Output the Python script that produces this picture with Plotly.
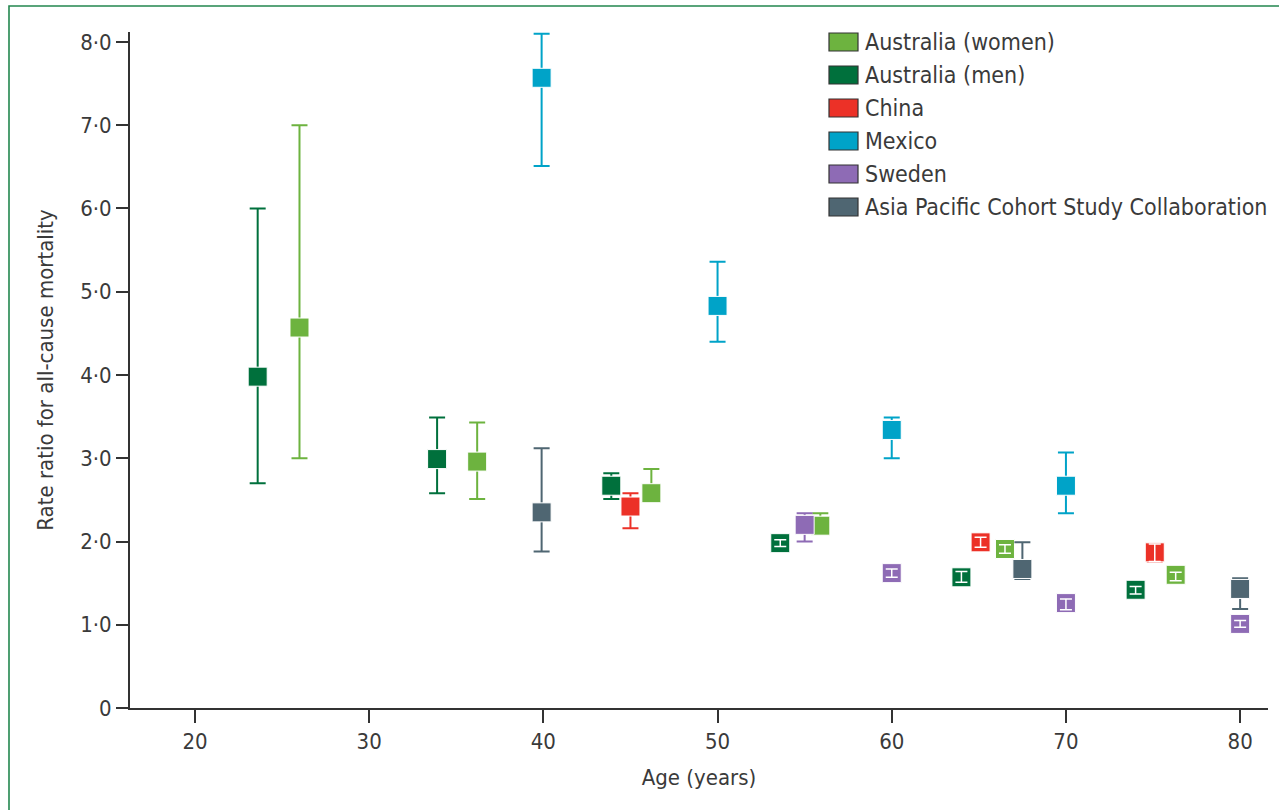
import plotly.graph_objects as go

# ---------------- data ----------------
series_names = ["Australia (women)", "Australia (men)", "China", "Mexico", "Sweden",
                "Asia Pacific Cohort Study Collaboration"]
series_colors = ["#6DB33F", "#00703C", "#EC3127", "#00A3C8", "#8E6BB5", "#4F6672"]

aus_women_age = [26.0, 36.2, 46.2, 55.9, 66.5, 76.3]
aus_women_rr  = [4.57, 2.96, 2.58, 2.19, 1.91, 1.60]
aus_women_hi  = [7.00, 3.43, 2.87, 2.34, 1.96, 1.63]
aus_women_lo  = [3.00, 2.51, 2.51, 2.10, 1.86, 1.53]

aus_men_age = [23.6, 33.9, 43.9, 53.6, 64.0, 74.0]
aus_men_rr  = [3.98, 2.99, 2.67, 1.98, 1.57, 1.42]
aus_men_hi  = [6.00, 3.49, 2.82, 2.02, 1.64, 1.46]
aus_men_lo  = [2.70, 2.58, 2.51, 1.94, 1.51, 1.37]

china_age = [45.0, 65.1, 75.1]
china_rr  = [2.42, 1.99, 1.87]
china_hi  = [2.58, 2.05, 1.97]
china_lo  = [2.16, 1.93, 1.76]

mexico_age = [39.9, 50.0, 60.0, 70.0]
mexico_rr  = [7.57, 4.83, 3.34, 2.67]
mexico_hi  = [8.10, 5.36, 3.49, 3.07]
mexico_lo  = [6.51, 4.40, 3.00, 2.34]

sweden_age = [55.0, 60.0, 70.0, 80.0]
sweden_rr  = [2.20, 1.62, 1.26, 1.01]
sweden_hi  = [2.34, 1.67, 1.31, 1.05]
sweden_lo  = [2.00, 1.57, 1.18, 0.97]

apcsc_age = [39.9, 67.5, 80.0]
apcsc_rr  = [2.35, 1.67, 1.43]
apcsc_hi  = [3.12, 1.99, 1.56]
apcsc_lo  = [1.88, 1.55, 1.19]

series_data = [
    (aus_women_age, aus_women_rr, aus_women_hi, aus_women_lo),
    (aus_men_age, aus_men_rr, aus_men_hi, aus_men_lo),
    (china_age, china_rr, china_hi, china_lo),
    (mexico_age, mexico_rr, mexico_hi, mexico_lo),
    (sweden_age, sweden_rr, sweden_hi, sweden_lo),
    (apcsc_age, apcsc_rr, apcsc_hi, apcsc_lo),
]

x_ticks = [20, 30, 40, 50, 60, 70, 80]
y_ticks = [0, 1, 2, 3, 4, 5, 6, 7, 8]
y_tick_labels = ["0", "1·0", "2·0", "3·0", "4·0", "5·0", "6·0", "7·0", "8·0"]

# ---------------- layout geometry ----------------
W, H = 1279, 810
ML, MR, MT, MB = 130, 11, 32, 102
PW, PH = W - ML - MR, H - MT - MB
X_RANGE = [16.27, 81.6]
Y_RANGE = [0, 8.12]
MARKER = 19
HALF_SQ = (MARKER / 2) / PH * (Y_RANGE[1] - Y_RANGE[0])

FONT = "DejaVu Sans Condensed, Liberation Sans Narrow, Arial Narrow, sans-serif"
TXT = "#3a3a3a"
AX = "#333333"

fig = go.Figure()

for name, color, (ages, rr, hi, lo) in zip(series_names, series_colors, series_data):
    fig.add_trace(go.Scatter(
        x=ages, y=rr, mode="markers", name=name, showlegend=False,
        marker=dict(symbol="square", size=MARKER, color=color,
                    line=dict(color="white", width=1)),
        error_y=dict(type="data", symmetric=False,
                     array=[h - r for h, r in zip(hi, rr)],
                     arrayminus=[r - l for r, l in zip(rr, lo)],
                     color=color, thickness=2, width=8),
        hoverinfo="x+y+name",
    ))

# white whiskers visible on top of squares where the whole CI lies inside the square
for (ages, rr, hi, lo) in series_data:
    sx, sy, su, sd = [], [], [], []
    for a, r, h, l in zip(ages, rr, hi, lo):
        if (h - r) < HALF_SQ * 1.05 and (r - l) < HALF_SQ * 1.05:
            sx.append(a); sy.append(r); su.append(h - r); sd.append(r - l)
    if sx:
        fig.add_trace(go.Scatter(
            x=sx, y=sy, mode="markers", showlegend=False, hoverinfo="skip",
            marker=dict(size=1, color="rgba(0,0,0,0)"),
            error_y=dict(type="data", symmetric=False, array=su, arrayminus=sd,
                         color="white", thickness=1.5, width=6),
        ))

# ---------------- manual legend ----------------
def px_to_paper_x(px):
    return (px - ML) / PW

def px_to_paper_y(py):
    return (H - MB - py) / PH

shapes = []
annotations = []
LEG_X0, LEG_SW, LEG_SH = 829, 29, 18
LEG_Y0, LEG_DY = 42, 33
for i, (name, color) in enumerate(zip(series_names, series_colors)):
    cy = LEG_Y0 + i * LEG_DY
    shapes.append(dict(type="rect", xref="paper", yref="paper",
                       x0=px_to_paper_x(LEG_X0), x1=px_to_paper_x(LEG_X0 + LEG_SW),
                       y0=px_to_paper_y(cy + LEG_SH / 2), y1=px_to_paper_y(cy - LEG_SH / 2),
                       fillcolor=color, line=dict(color="#333333", width=1.2)))
    annotations.append(dict(xref="paper", yref="paper", x=px_to_paper_x(LEG_X0 + LEG_SW + 5),
                            y=px_to_paper_y(cy), text=name, showarrow=False,
                            xanchor="left", yanchor="middle",
                            font=dict(family=FONT, size=23, color=TXT)))

# green frame around the whole figure
shapes.append(dict(type="rect", xref="paper", yref="paper",
                   x0=px_to_paper_x(9), x1=px_to_paper_x(W + 20),
                   y0=px_to_paper_y(H + 20), y1=px_to_paper_y(6),
                   line=dict(color="#23874F", width=1.6), fillcolor="rgba(0,0,0,0)", layer="below"))

fig.update_layout(
    width=W, height=H, autosize=False,
    margin=dict(l=ML, r=MR, t=MT, b=MB),
    paper_bgcolor="white", plot_bgcolor="white",
    font=dict(family=FONT, color=TXT, size=20),
    showlegend=False,
    shapes=shapes, annotations=annotations,
    xaxis=dict(range=X_RANGE, tickmode="array", tickvals=x_ticks,
               showgrid=False, zeroline=False, showline=True, linecolor=AX, linewidth=2,
               ticks="outside", ticklen=13, tickwidth=2, tickcolor=AX,
               tickfont=dict(family=FONT, size=22, color=TXT),
               title=dict(text="Age (years)", font=dict(family=FONT, size=22, color=TXT), standoff=16)),
    yaxis=dict(range=Y_RANGE, tickmode="array", tickvals=y_ticks, ticktext=y_tick_labels,
               showgrid=False, zeroline=False, showline=True, linecolor=AX, linewidth=2,
               ticks="outside", ticklen=12, tickwidth=2, tickcolor=AX,
               tickfont=dict(family=FONT, size=22, color=TXT),
               title=dict(text="Rate ratio for all-cause mortality",
                          font=dict(family=FONT, size=22, color=TXT), standoff=20)),
)

fig.write_html("out.html")
